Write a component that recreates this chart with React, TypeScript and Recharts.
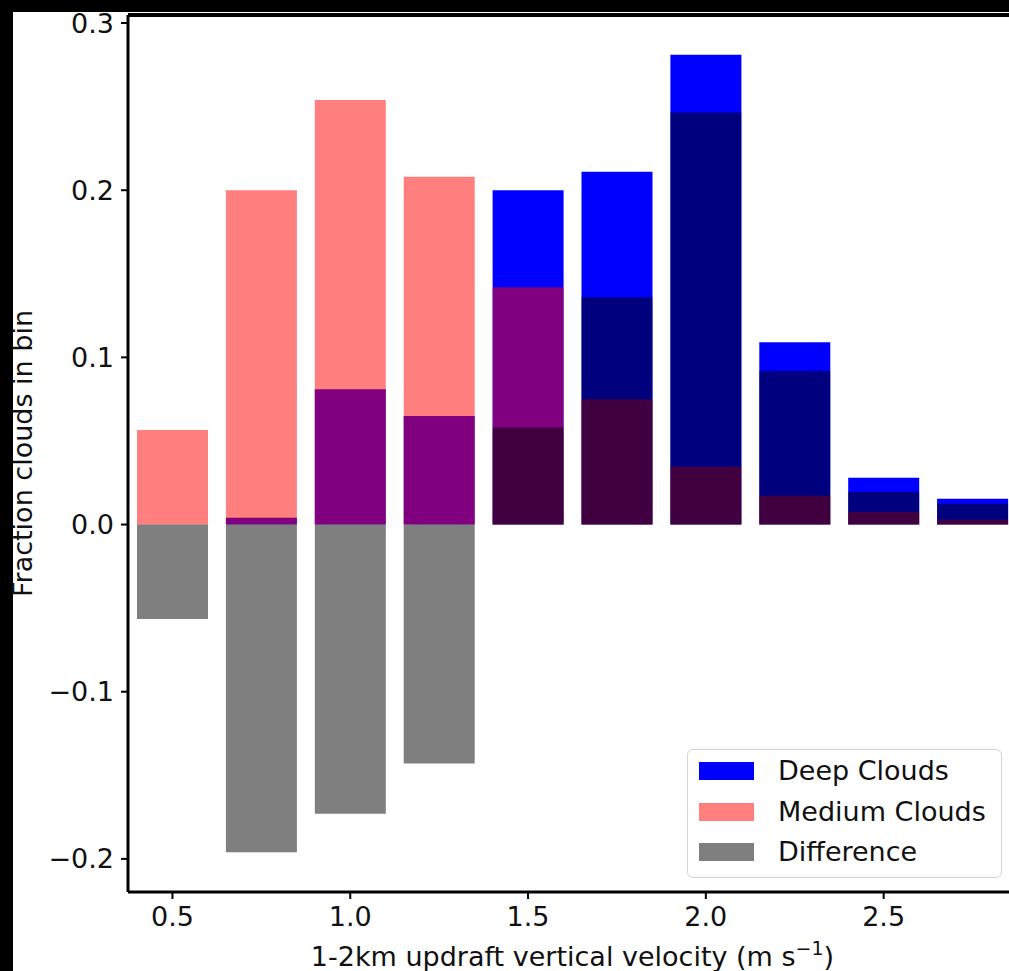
import { BarChart, Bar, XAxis, YAxis, Legend, ReferenceLine, Label } from "recharts";

// bin centres (m s-1) and fractions
const velocityBins = [0.5, 0.75, 1.0, 1.25, 1.5, 1.75, 2.0, 2.25, 2.5, 2.75];
const deepClouds = [0.0, 0.004, 0.081, 0.065, 0.2, 0.211, 0.281, 0.109, 0.028, 0.0155];
const mediumClouds = [0.0565, 0.2, 0.254, 0.208, 0.142, 0.075, 0.0345, 0.0172, 0.0075, 0.0028];
const difference = [-0.0565, -0.196, -0.173, -0.143, 0.058, 0.136, 0.2465, 0.0918, 0.0195, 0.0125];

const xTicks = [0.5, 1.0, 1.5, 2.0, 2.5];
const yTicks = [-0.2, -0.1, 0.0, 0.1, 0.2, 0.3];

const X_DOMAIN: [number, number] = [0.375, 2.875];
const Y_DOMAIN: [number, number] = [-0.2198, 0.3048];

const rows = velocityBins.map((v, i) => ({
  v,
  deep: deepClouds[i],
  medium: mediumClouds[i],
  difference: difference[i],
}));

const FONT = "'DejaVu Sans', sans-serif";
const TEXT = "#111";

const seriesOrder = ["deep", "medium", "difference"];
const swatchOpacity: Record<string, number> = { deep: 1, medium: 0.5, difference: 0.5 };

function fmtY(v: number) {
  const s = Math.abs(v).toFixed(1);
  return v < -1e-9 ? "\u2212" + s : s;
}

function LegendBox(props: any) {
  const payload = [...(props.payload || [])].sort(
    (a: any, b: any) => seriesOrder.indexOf(a.dataKey) - seriesOrder.indexOf(b.dataKey)
  );
  return (
    <div
      style={{
        position: "relative",
        width: 315,
        height: 129,
        boxSizing: "border-box",
        border: "1.5px solid #d4d4d4",
        borderRadius: 6,
        background: "rgba(255,255,255,0.8)",
        fontFamily: FONT,
      }}
    >
      {payload.map((entry: any, i: number) => {
        const cy = 21 + i * 40.5;
        return (
          <div key={entry.value}>
            <div
              style={{
                position: "absolute",
                left: 11,
                top: cy - 9,
                width: 55,
                height: 18,
                background: entry.color,
                opacity: swatchOpacity[entry.dataKey] ?? 1,
              }}
            />
            <div
              style={{
                position: "absolute",
                left: 90,
                top: cy - 15,
                fontSize: 27,
                lineHeight: "30px",
                color: TEXT,
                whiteSpace: "nowrap",
              }}
            >
              {entry.value}
            </div>
          </div>
        );
      })}
    </div>
  );
}

function XTitle(props: any) {
  const { x, y, width } = props.viewBox;
  return (
    <text x={x + width / 2} y={y + 74} textAnchor="middle" fontFamily={FONT} fontSize={27} fill={TEXT}>
      1-2km updraft vertical velocity (m s
      <tspan dy={-11} fontSize={19}>
        {"\u22121"}
      </tspan>
      <tspan dy={11}>)</tspan>
    </text>
  );
}

function YTitle(props: any) {
  const { y, height } = props.viewBox;
  const cx = 32;
  const cy = y + height / 2;
  return (
    <text
      x={cx}
      y={cy}
      transform={`rotate(-90, ${cx}, ${cy})`}
      textAnchor="middle"
      fontFamily={FONT}
      fontSize={27}
      fill={TEXT}
    >
      Fraction clouds in bin
    </text>
  );
}

const tickStyle = { fontSize: 27, fill: TEXT, fontFamily: FONT };

export default function App() {
  return (
    <div
      style={{
        position: "absolute",
        left: 0,
        top: 0,
        width: 1009,
        height: 971,
        overflow: "hidden",
        background: "#000",
      }}
    >
      <div style={{ position: "absolute", left: 13, top: 12, right: 0, bottom: 0, background: "#fff" }} />
      <div style={{ position: "absolute", left: 0, top: 0 }}>
        <BarChart
          width={1040}
          height={971}
          data={rows}
          margin={{ top: 15, right: 23, bottom: 0, left: 13 }}
          barSize={71}
        >
          <XAxis
            xAxisId="deep"
            dataKey="v"
            type="number"
            domain={X_DOMAIN}
            ticks={xTicks}
            tickFormatter={(v: number) => v.toFixed(1)}
            height={79}
            axisLine={{ stroke: "#000", strokeWidth: 3 }}
            tickLine={{ stroke: "#000", strokeWidth: 2 }}
            tickSize={7}
            tickMargin={8}
            tick={tickStyle}
            interval={0}
          >
            <Label content={XTitle} />
          </XAxis>
          <XAxis xAxisId="medium" dataKey="v" type="number" domain={X_DOMAIN} hide />
          <XAxis xAxisId="difference" dataKey="v" type="number" domain={X_DOMAIN} hide />
          <YAxis
            type="number"
            domain={Y_DOMAIN}
            ticks={yTicks}
            tickFormatter={fmtY}
            width={115}
            axisLine={{ stroke: "#000", strokeWidth: 3 }}
            tickLine={{ stroke: "#000", strokeWidth: 2 }}
            tickSize={7}
            tickMargin={7}
            tick={tickStyle}
            interval={0}
            allowDataOverflow
          >
            <Label content={YTitle} />
          </YAxis>
          <ReferenceLine xAxisId="deep" y={Y_DOMAIN[1]} stroke="#000" strokeWidth={4} />
          <Bar xAxisId="deep" dataKey="deep" name="Deep Clouds" fill="#0000ff" isAnimationActive={false} />
          <Bar
            xAxisId="medium"
            dataKey="medium"
            name="Medium Clouds"
            fill="#ff0000"
            fillOpacity={0.5}
            isAnimationActive={false}
          />
          <Bar
            xAxisId="difference"
            dataKey="difference"
            name="Difference"
            fill="#000000"
            fillOpacity={0.5}
            isAnimationActive={false}
          />
          <Legend
            layout="vertical"
            align="center"
            verticalAlign="middle"
            content={LegendBox}
            wrapperStyle={{ left: 687, top: 749, width: 315, height: 129 }}
          />
        </BarChart>
      </div>
    </div>
  );
}
